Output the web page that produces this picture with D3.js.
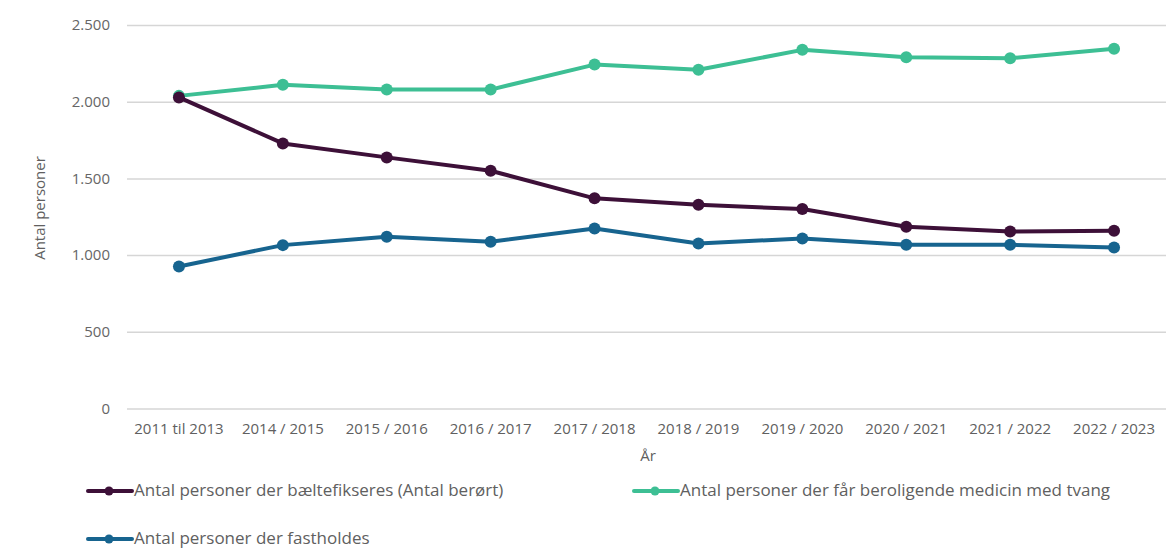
<!DOCTYPE html>
<html>
<head>
<meta charset="utf-8">
<script src="https://cdn.jsdelivr.net/npm/d3@7"></script>
<style>
  body { margin: 0; background: #fff; }
  svg { font-family: "Open Sans", Lato, sans-serif; }
</style>
</head>
<body>
<svg id="chart" width="1166" height="550"></svg>
<script>
var years = ["2011 til 2013", "2014 / 2015", "2015 / 2016", "2016 / 2017", "2017 / 2018",
  "2018 / 2019", "2019 / 2020", "2020 / 2021", "2021 / 2022", "2022 / 2023"];
var baelte = [2028, 1728, 1637, 1550, 1370, 1328, 1300, 1185, 1154, 1159];
var medicin = [2038, 2110, 2079, 2079, 2242, 2208, 2338, 2290, 2283, 2345];
var fasthold = [926, 1065, 1119, 1087, 1174, 1076, 1108, 1067, 1067, 1050];
var yTicks = [0, 500, 1000, 1500, 2000, 2500];

var series = [
  {name: "Antal personer der bæltefikseres (Antal berørt)", values: baelte, color: "#3d1038"},
  {name: "Antal personer der får beroligende medicin med tvang", values: medicin, color: "#3dbf94"},
  {name: "Antal personer der fastholdes", values: fasthold, color: "#17648f"}
];

var font = "'Open Sans', Lato, sans-serif";
var margin = {top: 25, right: 0, bottom: 142, left: 127},
  width = 1166,
  height = 550;

var svg = d3.select("#chart");

var x = d3.scaleBand()
  .domain(years)
  .range([margin.left, width - margin.right])
  .padding(0);

var y = d3.scaleLinear()
  .domain([0, 2500])
  .range([height - margin.bottom + 0.5, margin.top]);

// grid + y labels
svg.append("g")
  .attr("transform", "translate(" + margin.left + ",0)")
  .call(d3.axisLeft(y).tickValues(yTicks).tickSize(-(width - margin.left - margin.right))
    .tickFormat(d => d3.format(",")(d).replace(",", ".")).tickPadding(17))
  .attr("font-family", font)
  .call(g => g.select(".domain").remove())
  .call(g => g.selectAll(".tick line").attr("stroke", "#d6d6d6").attr("stroke-width", 1.5))
  .call(g => g.selectAll(".tick text").attr("fill", "#666").attr("font-size", 15));

// x labels
svg.append("g")
  .attr("transform", "translate(0," + (height - margin.bottom) + ")")
  .call(d3.axisBottom(x).tickSize(0).tickPadding(15))
  .attr("font-family", font)
  .call(g => g.select(".domain").remove())
  .call(g => g.selectAll(".tick text").attr("fill", "#606060").attr("font-size", 15));

svg.append("text")
  .attr("x", 648)
  .attr("y", 461)
  .attr("text-anchor", "middle")
  .attr("fill", "#606060")
  .attr("font-size", 15)
  .text("År");

svg.append("text")
  .attr("transform", "translate(45,208) rotate(-90)")
  .attr("text-anchor", "middle")
  .attr("fill", "#606060")
  .attr("font-size", 15)
  .text("Antal personer");

var line = d3.line()
  .x((d, i) => x(years[i]) + x.bandwidth() / 2)
  .y(d => y(d));

// draw in order: green, dark, blue (dark over green at start)
[series[1], series[0], series[2]].forEach(function(s) {
  var g = svg.append("g");
  g.append("path")
    .datum(s.values)
    .attr("fill", "none")
    .attr("stroke", s.color)
    .attr("stroke-width", 4)
    .attr("stroke-linejoin", "round")
    .attr("d", line);
  g.selectAll("circle").data(s.values).enter().append("circle")
    .attr("cx", (d, i) => x(years[i]) + x.bandwidth() / 2)
    .attr("cy", d => y(d))
    .attr("r", 6)
    .attr("fill", s.color);
});

// legend
var legendPos = [[88, 491], [634, 491], [88, 539]];
series.forEach(function(s, i) {
  var lg = svg.append("g").attr("transform", "translate(" + legendPos[i][0] + "," + legendPos[i][1] + ")");
  lg.append("line").attr("x1", 0).attr("x2", 44).attr("stroke", s.color).attr("stroke-width", 4).attr("stroke-linecap", "round");
  lg.append("circle").attr("cx", 21).attr("r", 4.5).attr("fill", s.color);
  lg.append("text").attr("x", 46).attr("dy", "0.32em").attr("fill", "#606060").attr("font-size", 17).text(s.name);
});
</script>
</body>
</html>
